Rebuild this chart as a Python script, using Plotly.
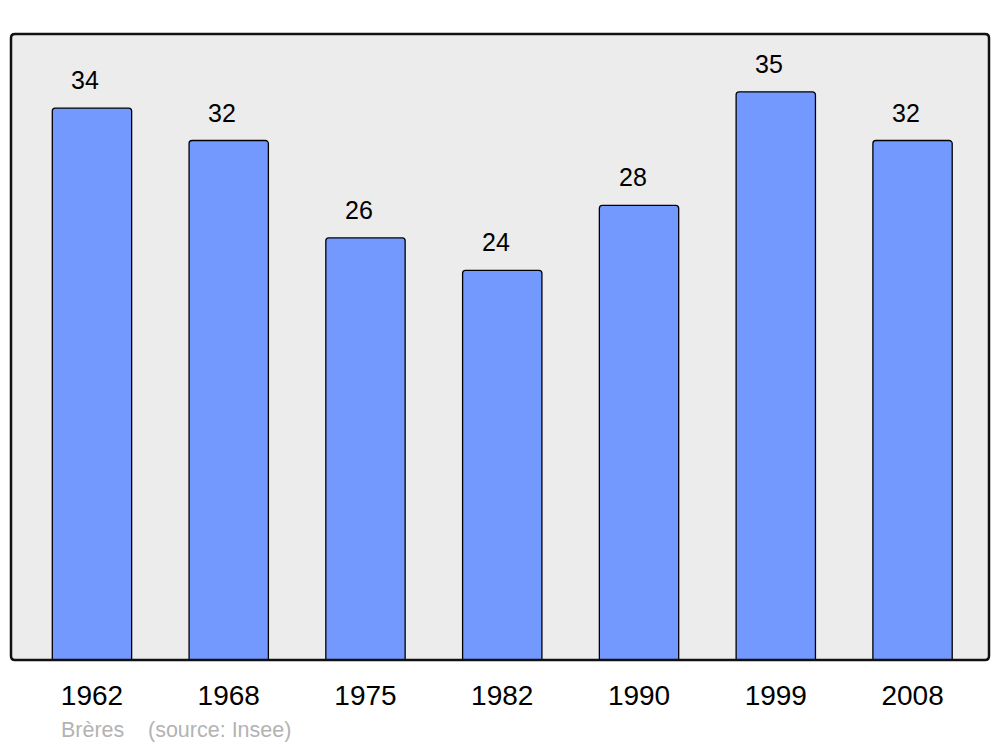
import plotly.graph_objects as go

years = ["1962", "1968", "1975", "1982", "1990", "1999", "2008"]
population = [34, 32, 26, 24, 28, 35, 32]
place = "Brères"
source = "(source: Insee)"

W, H = 1000, 747
ml, mr, mt, mb = 11, 11, 34, 87

fig = go.Figure()
fig.add_trace(go.Bar(
    x=years, y=population,
    marker=dict(color="#7399ff", line=dict(color="#000000", width=1.3)),
    width=0.58,
    hoverinfo="skip",
))

annotations = []
for i, v in enumerate(population):
    annotations.append(dict(
        x=i, y=v, xref="x", yref="y", text=str(v), showarrow=False,
        yanchor="bottom", yshift=12, xshift=-6.5,
        font=dict(family="Liberation Sans, Arial, sans-serif", size=25, color="#000000"),
    ))

pw, ph = W - ml - mr, H - mt - mb
for txt, px in [(place, 59), (source, 146)]:
    annotations.append(dict(
        x=(px - ml) / pw, y=1 - (730 - mt) / ph, xref="paper", yref="paper",
        xanchor="left", yanchor="middle", text=txt, showarrow=False,
        font=dict(family="Liberation Sans, Arial, sans-serif", size=21.5, color="#b3b3b3"),
    ))

# rounded frame around plot area (paper coords)
r = 4
rx, ry = r / pw, r / ph
path = (f"M {rx},0 L {1-rx},0 Q 1,0 1,{ry} L 1,{1-ry} Q 1,1 {1-rx},1 "
        f"L {rx},1 Q 0,1 0,{1-ry} L 0,{ry} Q 0,0 {rx},0 Z")

fig.update_layout(
    width=W, height=H,
    margin=dict(l=ml, r=mr, t=mt, b=mb),
    paper_bgcolor="#ffffff",
    plot_bgcolor="#ececec",
    showlegend=False,
    barcornerradius=3,
    annotations=annotations,
    shapes=[dict(type="path", path=path, xref="paper", yref="paper",
                 line=dict(color="#111111", width=2.5), layer="above")],
    xaxis=dict(
        type="category", range=[-0.592, 6.559], showgrid=False, zeroline=False,
        showline=False, ticks="", ticklabelstandoff=16,
        tickfont=dict(family="Liberation Sans, Arial, sans-serif", size=28, color="#000000"),
    ),
    yaxis=dict(range=[0, 38.56], showgrid=False, zeroline=False, showline=False,
               showticklabels=False, ticks=""),
    font=dict(family="Liberation Sans, Arial, sans-serif"),
)

fig.write_html("out.html", config={"displayModeBar": False},
               post_script="document.body.style.margin='0';document.body.style.overflow='hidden';")
